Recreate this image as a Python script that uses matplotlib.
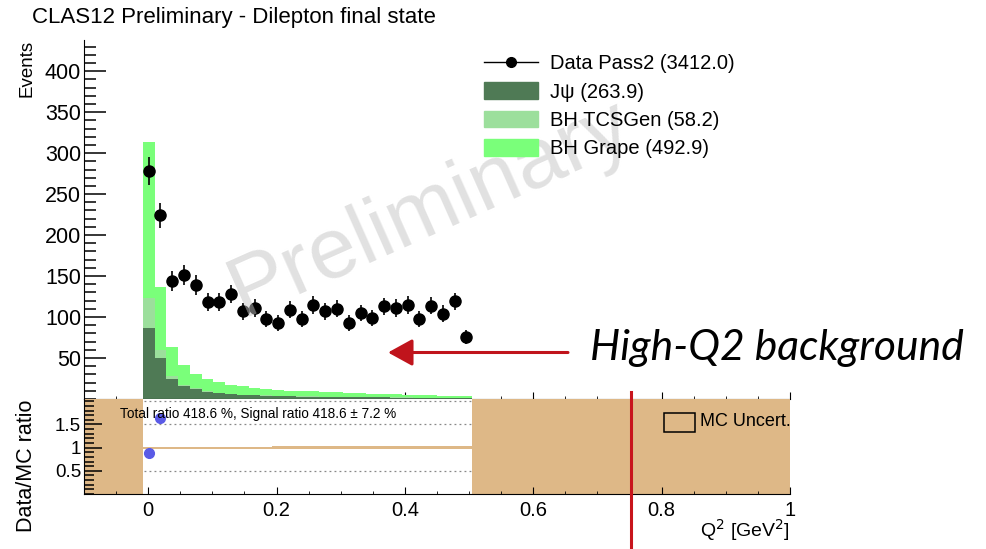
import matplotlib
matplotlib.use("Agg")
import matplotlib.pyplot as plt
import numpy as np
from matplotlib.lines import Line2D
from matplotlib.patches import Patch, Rectangle
from matplotlib.ticker import MultipleLocator, FixedLocator

plt.rcParams["font.family"] = ["Liberation Sans", "DejaVu Sans"]

# Binning: 60 bins over [-0.1, 1.0] GeV^2, filled bins start at index 5
n_bins = 60
q2_lo, q2_hi = -0.1, 1.0
first_bin = 5

data_counts = [278, 224, 144, 151, 139, 118, 118, 128, 107, 111, 98, 93, 109, 98,
               115, 107, 110, 93, 105, 99, 113, 111, 115, 98, 114, 104, 119, 76]
jpsi = [87, 50, 25, 16, 12, 9, 7, 6, 5, 4.5, 4, 3.5, 3.5, 3, 3, 2.8, 2.6, 2.4,
        2.2, 2, 2, 1.8, 1.7, 1.6, 1.5, 1.4, 1.3, 1.2]
bh_tcsgen = [36, 10, 3, 1.5, 1, 0.8, 0.6, 0.5, 0.4, 0.4, 0.35, 0.3, 0.3, 0.3,
             0.25, 0.25, 0.2, 0.2, 0.2, 0.2, 0.15, 0.15, 0.15, 0.15, 0.1, 0.1, 0.1, 0.1]
bh_grape = [190, 77, 36, 24, 18, 15, 13, 10, 10, 9, 8, 7.5, 6.5, 6.5, 6, 5.7,
            5.4, 5.1, 4.8, 4.5, 4, 3.7, 3.3, 3.4, 3, 2.6, 2.7, 2.3]
mc_rel_unc = [0.02] * 11 + [0.028] * 17

legend_labels = ["Data Pass2 (3412.0)", "J\u03c8 (263.9)", "BH TCSGen (58.2)", "BH Grape (492.9)"]
ratio_text = "Total ratio 418.6 %, Signal ratio 418.6 \u00b1 7.2 %"

c_jpsi = "#4f7a55"
c_tcs = "#9cdf9c"
c_grape = "#7aff7a"
c_unc = "#deb887"

W, H = 987, 549
fig = plt.figure(figsize=(W / 100, H / 100), dpi=100)


def fx(px):
    return px / W


def fy(py):
    return 1 - py / H


ax = fig.add_axes([fx(84), fy(399), fx(790 - 84), fy(40) - fy(399)])
rax = fig.add_axes([fx(84), fy(494), fx(790 - 84), fy(399) - fy(494)])

edges = np.linspace(q2_lo, q2_hi, n_bins + 1)
width = edges[1] - edges[0]
n_fill = len(data_counts)
left = edges[first_bin:first_bin + n_fill]
centers = left + width / 2

jp = np.array(jpsi)
tc = np.array(bh_tcsgen)
gr = np.array(bh_grape)
dat = np.array(data_counts, dtype=float)

ax.bar(left, jp, width=width, align="edge", color=c_jpsi, lw=0, zorder=2)
ax.bar(left, tc, width=width, bottom=jp, align="edge", color=c_tcs, lw=0, zorder=2)
ax.bar(left, gr, width=width, bottom=jp + tc, align="edge", color=c_grape, lw=0, zorder=2)
ax.errorbar(centers, dat, yerr=np.sqrt(dat), fmt="o", color="black", ms=8,
            elinewidth=1.2, capsize=0, zorder=4)

ax.set_xlim(q2_lo, q2_hi)
ax.set_ylim(0, 438)
for s in ["top", "right"]:
    ax.spines[s].set_visible(False)
ax.yaxis.set_major_locator(FixedLocator([50, 100, 150, 200, 250, 300, 350, 400]))
ax.yaxis.set_minor_locator(MultipleLocator(10))
ax.xaxis.set_major_locator(MultipleLocator(0.2))
ax.xaxis.set_minor_locator(MultipleLocator(0.05))
ax.tick_params(axis="y", which="major", direction="in", length=16, width=1.1, labelsize=15.5, pad=2)
ax.tick_params(axis="y", which="minor", direction="in", length=8.5, width=1.1)
ax.tick_params(axis="x", which="major", direction="in", length=5, labelbottom=False)
ax.tick_params(axis="x", which="minor", direction="in", length=2.5)

# watermark
ax.text(0.49, 0.53, "Preliminary", transform=ax.transAxes, rotation=24,
        fontsize=62, color="#c4c4c4", alpha=0.5, ha="center", va="center", zorder=5)

handles = [Line2D([], [], color="black", marker="o", ms=7, lw=1),
           Patch(color=c_jpsi), Patch(color=c_tcs), Patch(color=c_grape)]
fig.legend(handles, legend_labels, loc="upper left",
           bbox_to_anchor=(fx(484), fy(54)), bbox_transform=fig.transFigure,
           frameon=False, fontsize=14.5, borderpad=0, borderaxespad=0,
           handlelength=2.7, handleheight=0.9, handletextpad=0.6, labelspacing=0.45)

# ratio panel
mc_tot = jp + tc + gr
full_mc = np.zeros(n_bins)
full_mc[first_bin:first_bin + n_fill] = mc_tot
full_unc = np.zeros(n_bins)
full_unc[first_bin:first_bin + n_fill] = mc_rel_unc
r_top = 2.05
empty = full_mc == 0
band_bot = np.where(empty, 0, 1 - full_unc)
band_h = np.where(empty, r_top, 2 * full_unc)
rax.bar(edges[:-1], band_h, bottom=band_bot, width=width, align="edge",
        color=c_unc, lw=0, zorder=1)
for yv in [0.5, 1.5, 2.0]:
    rax.axhline(yv, color="#888888", ls=(0, (1.5, 2.5)), lw=0.9, zorder=0.5)
ratio = dat / mc_tot
rax.plot(centers, ratio, "o", color="#5a5ae6", ms=7, zorder=3)
rax.set_xlim(q2_lo, q2_hi)
rax.set_ylim(0, r_top)
for s in ["top", "right"]:
    rax.spines[s].set_visible(False)
rax.yaxis.set_major_locator(FixedLocator([0.5, 1.0, 1.5]))
rax.yaxis.set_minor_locator(MultipleLocator(0.1))
rax.set_yticklabels(["0.5", "1", "1.5"])
rax.xaxis.set_major_locator(FixedLocator([0, 0.2, 0.4, 0.6, 0.8, 1.0]))
rax.xaxis.set_minor_locator(MultipleLocator(0.05))
rax.set_xticklabels(["0", "0.2", "0.4", "0.6", "0.8", "1"])
rax.tick_params(axis="y", which="major", direction="in", length=13, width=1.1, labelsize=13.5, pad=2)
rax.tick_params(axis="y", which="minor", direction="in", length=7, width=1.1)
rax.tick_params(axis="x", which="major", direction="in", length=5, labelsize=14.5, pad=5)
rax.tick_params(axis="x", which="minor", direction="in", length=2.5)
rax.text(fx(120 - 84) / fx(790 - 84), 0.84, ratio_text, transform=rax.transAxes,
         fontsize=9.8, va="center", ha="left", zorder=4)

# MC Uncert. legend box
fig.patches.append(Rectangle((fx(664), fy(432)), fx(31), fy(413) - fy(432),
                             transform=fig.transFigure, facecolor=c_unc,
                             edgecolor="black", lw=1.1))
fig.text(fx(700), fy(422), "MC Uncert.", fontsize=13, va="center", ha="left")

# titles and axis labels
fig.text(fx(32), fy(18), "CLAS12 Preliminary - Dilepton final state", fontsize=16,
         va="center", ha="left")
fig.text(fx(27), fy(40), "Events", rotation=90, fontsize=13.5, va="top", ha="center")
fig.text(fx(27), fy(466), "Data/MC ratio", rotation=90, fontsize=15.5, va="center", ha="center")
fig.text(fx(790), fy(530), "Q$^2$ [GeV$^2$]", fontsize=14, va="center", ha="right")

# annotation overlay
ax.annotate("", xy=(388, H - 352.5), xycoords="figure pixels",
            xytext=(568, H - 352.5), textcoords="figure pixels",
            arrowprops=dict(arrowstyle="-|>,head_length=1.0,head_width=0.55",
                            color="#c0141c", lw=2.2, mutation_scale=15,
                            shrinkA=0, shrinkB=0))
fig.text(fx(590), fy(360), "High-Q2 background", fontsize=30.7, style="italic",
         family="Lato", va="baseline", ha="left")
fig.add_artist(Line2D([fx(631), fx(631)], [fy(392), 0], transform=fig.transFigure,
                      color="#c8141c", lw=2.2))

fig.savefig("out.png", dpi=100)
plt.close(fig)
